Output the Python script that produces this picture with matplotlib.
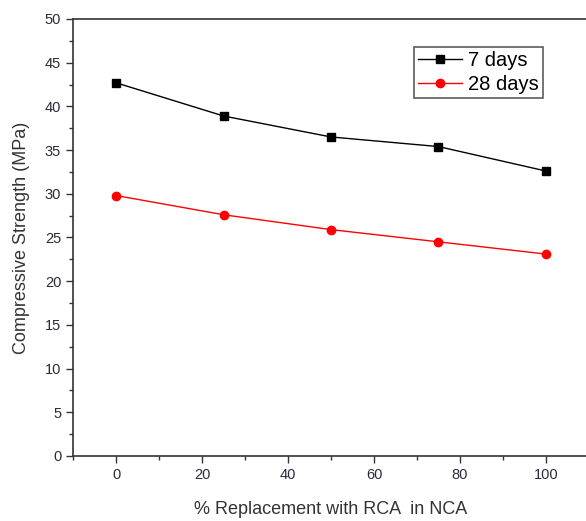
import numpy as np
import matplotlib as mpl
import matplotlib.pyplot as plt
from matplotlib.ticker import MultipleLocator

mpl.rcParams['font.family'] = ['Liberation Sans', 'DejaVu Sans']

replacement = [0, 25, 50, 75, 100]
days_7 = [42.7, 38.9, 36.5, 35.4, 32.6]
days_28 = [29.8, 27.6, 25.9, 24.5, 23.1]

fig = plt.figure(figsize=(5.86, 5.21), dpi=100)
ax = fig.add_axes([0.1246, 0.1248, 0.8805, 0.8388])

ax.plot(replacement, days_7, color='k', marker='s', markersize=6, lw=1, label='7 days')
ax.plot(replacement, days_28, color='r', marker='o', markersize=6, lw=1, label='28 days')

ax.set_xlim(-10, 110)
ax.set_ylim(0, 50)
ax.xaxis.set_major_locator(MultipleLocator(20))
ax.xaxis.set_minor_locator(MultipleLocator(10))
ax.yaxis.set_major_locator(MultipleLocator(5))
ax.yaxis.set_minor_locator(MultipleLocator(2.5))
ax.tick_params(which='major', direction='out', length=5, width=1, labelsize=10.5, colors='#333333', labelcolor='#2a2a3a')
ax.tick_params(which='minor', direction='out', length=3, width=1, colors='#333333')
for s in ax.spines.values():
    s.set_linewidth(1.2)
    s.set_color('#333333')

ax.set_xlabel('% Replacement with RCA  in NCA', fontsize=13, labelpad=14, color='#333333')
ax.set_ylabel('Compressive Strength (MPa)', fontsize=13, labelpad=11, color='#333333')

leg = ax.legend(loc='upper left', bbox_to_anchor=(0.66, 0.935), fontsize=14.5,
                frameon=True, fancybox=False, edgecolor='#333333', handlelength=2.2,
                borderpad=0.2, labelspacing=0.25, handletextpad=0.3, borderaxespad=0)
leg.get_frame().set_linewidth(1.2)

fig.savefig('out.png', dpi=100)
